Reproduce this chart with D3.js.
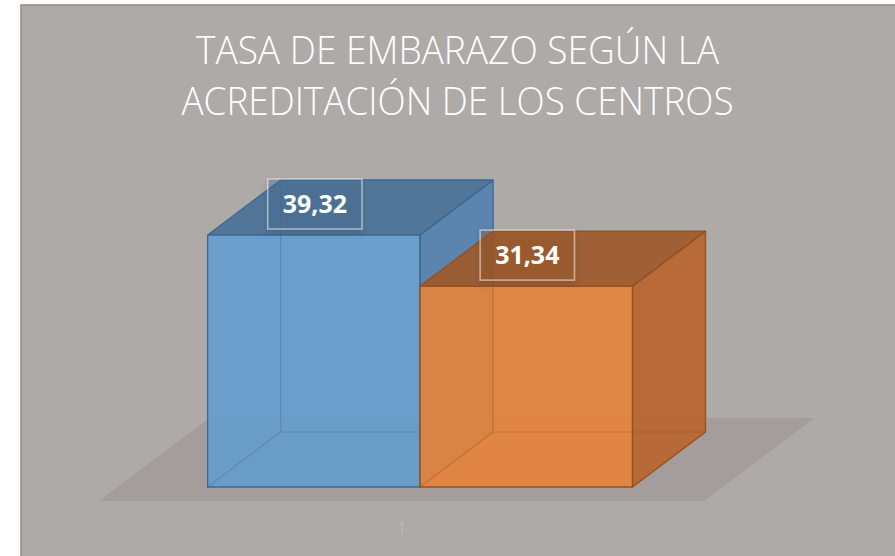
<!DOCTYPE html>
<html>
<head>
<meta charset="utf-8">
<script src="https://cdn.jsdelivr.net/npm/d3@7"></script>
<style>
  body { margin: 0; background: #fff; }
  svg { display: block; }
</style>
</head>
<body>
<svg id="chart" width="895" height="556"></svg>
<script>
// Data
const titleLines = ["TASA DE EMBARAZO SEGÚN LA", "ACREDITACIÓN DE LOS CENTROS"]
const categories = ["1"]
const seriesNames = ["Serie 1", "Serie 2"]
const values = [39.32, 31.34]

// Styles
const palette = [
  { front: "#649ccd", top: "#4a7297", side: "#5482b0", edge: "#3d6792" },
  { front: "#e7833a", top: "#9e5a2c", side: "#b8652f", edge: "#97501f" }
]
const bg = "#aeaaa8"
const floorColor = "#a49d9b"

const svg = d3.select("#chart")
const locale = d3.formatLocale({ decimal: ",", thousands: ".", grouping: [3], currency: ["", "€"] })
const fmt = locale.format(".2f")

// Chart area
svg.append("rect")
  .attr("x", 21).attr("y", 5).attr("width", 880).attr("height", 560)
  .attr("fill", bg).attr("stroke", "#8f8c8b").attr("stroke-width", 1.5)

// Title
svg.append("g").selectAll("text")
  .data(titleLines)
  .join("text")
  .attr("x", 457.5)
  .attr("y", (d, i) => 64 + i * 51)
  .attr("text-anchor", "middle")
  .attr("font-family", "'Open Sans', sans-serif")
  .attr("font-weight", 300)
  .attr("font-size", 38)
  .attr("fill", "#fff")
  .attr("textLength", (d, i) => i ? 552 : 523)
  .attr("lengthAdjust", "spacingAndGlyphs")
  .text(d => d)

// Pseudo 3D projection: x along width, h up, z into depth
const floorY = 501
const depthK = 73 / 55
const proj = (x, h, z) => [x + z * depthK, floorY - h - z]
const zFront = 14, zBack = 69, zFloor = 83

const xCat = d3.scaleBand().domain(categories).range([99, 704])
const xSeries = d3.scaleBand().domain(seriesNames)
  .range([0, xCat.bandwidth()]).paddingInner(0).paddingOuter(0.424)
const y = d3.scaleLinear().domain([0, 40]).range([0, 256.4])

const poly = pts => pts.map(p => p.join(",")).join(" ")

// Floor
const f0 = xCat(categories[0]), f1 = f0 + xCat.bandwidth()
svg.append("polygon")
  .attr("points", poly([proj(f0, 0, 0), proj(f1, 0, 0), proj(f1, 0, zFloor), proj(f0, 0, zFloor)]))
  .attr("fill", floorColor)

// Category label
svg.append("g").selectAll("text")
  .data(categories)
  .join("text")
  .attr("x", d => xCat(d) + xCat.bandwidth() / 2)
  .attr("y", 534)
  .attr("text-anchor", "middle")
  .attr("font-family", "'Open Sans', sans-serif")
  .attr("font-size", 17)
  .attr("fill", "#bcb8b6")
  .text(d => d)

const bars = seriesNames.map((s, i) => {
  const x0 = xCat(categories[0]) + xSeries(s)
  const x1 = x0 + xSeries.bandwidth()
  return { s, i, v: values[i], x0, x1, h: y(values[i]), c: palette[i] }
})

// Label shadow filter
const defs = svg.append("defs")
defs.append("filter").attr("id", "shadow")
  .attr("x", "-30%").attr("y", "-30%").attr("width", "160%").attr("height", "170%")
  .append("feDropShadow")
  .attr("dx", 0).attr("dy", 3).attr("stdDeviation", 3)
  .attr("flood-color", "#000").attr("flood-opacity", 0.3)

const barG = svg.append("g")
bars.forEach(b => {
  const g = barG.append("g")
  const { x0, x1, h, c } = b
  const front = [proj(x0, 0, zFront), proj(x1, 0, zFront), proj(x1, h, zFront), proj(x0, h, zFront)]
  const side = [proj(x1, 0, zFront), proj(x1, 0, zBack), proj(x1, h, zBack), proj(x1, h, zFront)]
  const top = [proj(x0, h, zFront), proj(x1, h, zFront), proj(x1, h, zBack), proj(x0, h, zBack)]

  g.append("polygon").attr("points", poly(front))
    .attr("fill", c.front).attr("fill-opacity", 0.9)
  g.append("polygon").attr("points", poly(side))
    .attr("fill", c.side).attr("fill-opacity", 0.92)
  g.append("polygon").attr("points", poly(top))
    .attr("fill", c.top).attr("fill-opacity", 0.93)

  // hidden edges seen through the faces
  const hidden = [
    [proj(x0, 0, zBack), proj(x0, h, zBack)],
    [proj(x0, 0, zBack), proj(x1, 0, zBack)],
    [proj(x0, 0, zFront), proj(x0, 0, zBack)]
  ]
  g.selectAll("line.hidden")
    .data(hidden)
    .join("line")
    .attr("class", "hidden")
    .attr("x1", d => d[0][0]).attr("y1", d => d[0][1])
    .attr("x2", d => d[1][0]).attr("y2", d => d[1][1])
    .attr("stroke", c.edge).attr("stroke-opacity", 0.35).attr("stroke-width", 1.2)

  ;[front, side, top].forEach(pts => {
    g.append("polygon").attr("points", poly(pts))
      .attr("fill", "none").attr("stroke", c.edge)
      .attr("stroke-width", 1.3).attr("stroke-linejoin", "round")
  })
})

// Data labels
const labelG = svg.append("g")
bars.forEach(b => {
  const [fx, fy] = proj((b.x0 + b.x1) / 2, b.h, zFront)
  const cx = fx + 1, cy = fy - 31
  const g = labelG.append("g")
  const txt = g.append("text")
    .attr("x", cx).attr("y", cy)
    .attr("dy", "0.36em")
    .attr("text-anchor", "middle")
    .attr("font-family", "'Open Sans', sans-serif")
    .attr("font-weight", 700)
    .attr("font-size", 25)
    .attr("fill", "#fff")
    .text(fmt(b.v))
  const bb = txt.node().getBBox()
  g.insert("rect", "text")
    .attr("x", cx - bb.width / 2 - 15).attr("y", cy - 25)
    .attr("width", bb.width + 30).attr("height", 50)
    .attr("fill", b.c.top).attr("fill-opacity", 0.35)
    .attr("stroke", "#fff").attr("stroke-opacity", 0.5).attr("stroke-width", 1.5)
    .attr("filter", "url(#shadow)")
})
</script>
</body>
</html>
